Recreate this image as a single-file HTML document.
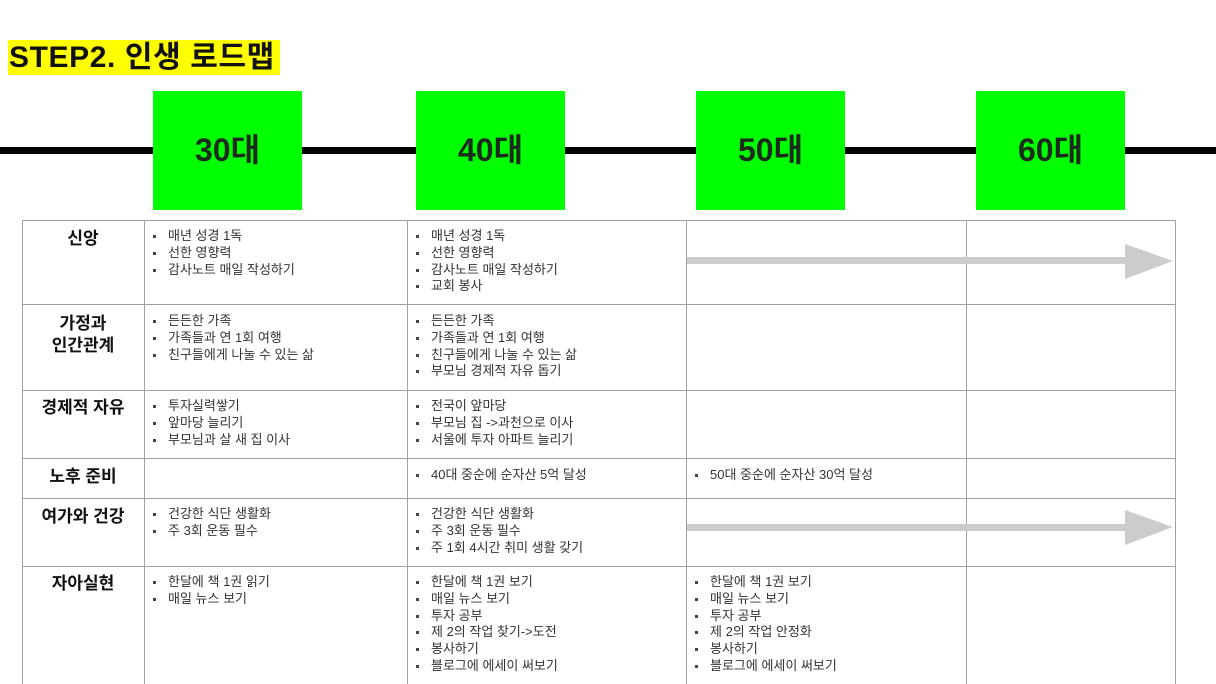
<!DOCTYPE html>
<html><head><meta charset="utf-8"><style>
body{margin:0;width:1216px;height:684px;background:#fff;position:relative;overflow:hidden;font-family:"Liberation Sans","Noto Sans CJK KR",sans-serif;}
.a{position:absolute}
.title{left:8px;top:40px;height:35px;width:272px;background:#ffff00;font-weight:bold;font-size:30px;line-height:36px;color:#111;padding-left:1px;box-sizing:border-box;letter-spacing:0.6px}
.box{top:91px;width:149px;height:119px;background:#00ff00;font-size:32px;color:#1d2b1d;text-align:center;line-height:119px;font-weight:bold}
.hl{left:0;top:147px;width:1216px;height:7px;background:#000}
.v{background:#a0a0a0;width:1px}
.h{background:#a0a0a0;height:1px}
.hd{font-weight:bold;font-size:17px;text-align:center;color:#111;line-height:22px;width:122px;left:22px}
ul{position:absolute;margin:0;padding:0;list-style:none;font-size:13px;line-height:16.8px;color:#333}
li{padding-left:21px;position:relative;white-space:nowrap}
li:before{content:"";position:absolute;left:6px;top:7px;width:3px;height:3px;background:#444}
</style></head><body>
<div class="a title">STEP2. 인생 로드맵</div>
<div class="a hl"></div>
<div class="a box" style="left:153px">30대</div>
<div class="a box" style="left:416px">40대</div>
<div class="a box" style="left:696px">50대</div>
<div class="a box" style="left:976px">60대</div>

<div class="a v" style="left:22px;top:220px;height:464px"></div>
<div class="a v" style="left:144px;top:220px;height:464px"></div>
<div class="a v" style="left:407px;top:220px;height:464px"></div>
<div class="a v" style="left:686px;top:220px;height:464px"></div>
<div class="a v" style="left:966px;top:220px;height:464px"></div>
<div class="a v" style="left:1175px;top:220px;height:464px"></div>
<div class="a h" style="left:22px;top:220px;width:1154px"></div>
<div class="a h" style="left:22px;top:304px;width:1154px"></div>
<div class="a h" style="left:22px;top:390px;width:1154px"></div>
<div class="a h" style="left:22px;top:458px;width:1154px"></div>
<div class="a h" style="left:22px;top:498px;width:1154px"></div>
<div class="a h" style="left:22px;top:566px;width:1154px"></div>

<div class="a hd" style="top:228px">신앙</div>
<div class="a hd" style="top:313px">가정과<br>인간관계</div>
<div class="a hd" style="top:397px">경제적 자유</div>
<div class="a hd" style="top:466px">노후 준비</div>
<div class="a hd" style="top:506px">여가와 건강</div>
<div class="a hd" style="top:573px">자아실현</div>

<ul style="left:147px;top:228px"><li>매년 성경 1독</li><li>선한 영향력</li><li>감사노트 매일 작성하기</li></ul>
<ul style="left:410px;top:228px"><li>매년 성경 1독</li><li>선한 영향력</li><li>감사노트 매일 작성하기</li><li>교회 봉사</li></ul>
<ul style="left:147px;top:313px"><li>든든한 가족</li><li>가족들과 연 1회 여행</li><li>친구들에게 나눌 수 있는 삶</li></ul>
<ul style="left:410px;top:313px"><li>든든한 가족</li><li>가족들과 연 1회 여행</li><li>친구들에게 나눌 수 있는 삶</li><li>부모님 경제적 자유 돕기</li></ul>
<ul style="left:147px;top:398px"><li>투자실력쌓기</li><li>앞마당 늘리기</li><li>부모님과 살 새 집 이사</li></ul>
<ul style="left:410px;top:398px"><li>전국이 앞마당</li><li>부모님 집 -&gt;과천으로 이사</li><li>서울에 투자 아파트 늘리기</li></ul>
<ul style="left:410px;top:467px"><li>40대 중순에 순자산 5억 달성</li></ul>
<ul style="left:689px;top:467px"><li>50대 중순에 순자산 30억 달성</li></ul>
<ul style="left:147px;top:506px"><li>건강한 식단 생활화</li><li>주 3회 운동 필수</li></ul>
<ul style="left:410px;top:506px"><li>건강한 식단 생활화</li><li>주 3회 운동 필수</li><li>주 1회 4시간 취미 생활 갖기</li></ul>
<ul style="left:147px;top:574px"><li>한달에 책 1권 읽기</li><li>매일 뉴스 보기</li></ul>
<ul style="left:410px;top:574px"><li>한달에 책 1권 보기</li><li>매일 뉴스 보기</li><li>투자 공부</li><li>제 2의 작업 찾기-&gt;도전</li><li>봉사하기</li><li>블로그에 에세이 써보기</li></ul>
<ul style="left:689px;top:574px"><li>한달에 책 1권 보기</li><li>매일 뉴스 보기</li><li>투자 공부</li><li>제 2의 작업 안정화</li><li>봉사하기</li><li>블로그에 에세이 써보기</li></ul>

<svg class="a" style="left:0;top:0" width="1216" height="684">
<rect x="687" y="257" width="440" height="7" fill="#cccccc"/>
<polygon points="1125,244 1173,261 1125,279" fill="#cccccc"/>
<rect x="687" y="524" width="440" height="7" fill="#cccccc"/>
<polygon points="1125,510 1173,527 1125,545" fill="#cccccc"/>
</svg>
</body></html>
